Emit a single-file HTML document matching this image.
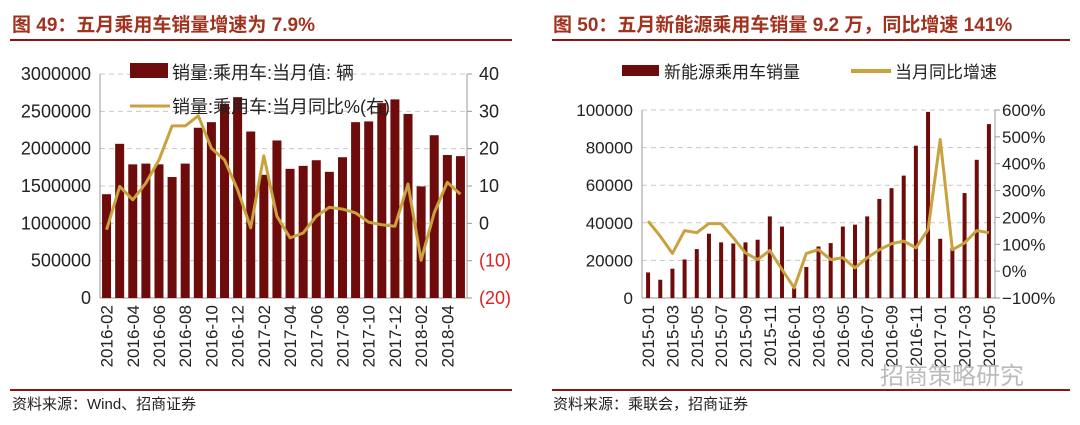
<!DOCTYPE html>
<html><head><meta charset="utf-8">
<style>
body{margin:0;background:#fff;width:1080px;height:425px;overflow:hidden;font-family:"Liberation Sans","Noto Sans CJK SC",sans-serif;}
svg{position:absolute;left:0;top:0}
</style></head>
<body>
<svg id="c" width="1080" height="425"></svg>
<script>
const leftCats = ["2016-02","2016-03","2016-04","2016-05","2016-06","2016-07","2016-08","2016-09","2016-10","2016-11","2016-12","2017-01","2017-02","2017-03","2017-04","2017-05","2017-06","2017-07","2017-08","2017-09","2017-10","2017-11","2017-12","2018-01","2018-02","2018-03","2018-04","2018-05"];
const leftSales = [1390000,2065000,1790000,1800000,1790000,1620000,1800000,2280000,2355000,2600000,2690000,2230000,1650000,2110000,1730000,1770000,1845000,1690000,1885000,2355000,2365000,2610000,2660000,2465000,1495000,2180000,1915000,1900000];
const leftYoy = [-1.7,9.9,6.3,10.8,17,26.1,26.1,28.8,20.1,17,9,-1.2,18.1,1.9,-3.9,-2.6,1.9,4.3,3.8,2.8,0.3,-0.4,-0.8,10.5,-9.9,2.8,11,7.8];
const leftTicksL = [0,500000,1000000,1500000,2000000,2500000,3000000];
const leftTicksR = [-20,-10,0,10,20,30,40];

const rightCats = ["2015-01","2015-02","2015-03","2015-04","2015-05","2015-06","2015-07","2015-08","2015-09","2015-10","2015-11","2015-12","2016-01","2016-02","2016-03","2016-04","2016-05","2016-06","2016-07","2016-08","2016-09","2016-10","2016-11","2016-12","2017-01","2017-02","2017-03","2017-04","2017-05"];
const rightSales = [13600,9700,15600,20500,26000,34200,29600,29000,29600,31000,43400,38000,5300,16500,27400,29200,38000,39000,43400,52700,58400,65100,81000,99000,31500,26500,55800,73500,92500];
const rightYoy = [186,130,66,151,143,177,177,124,68,43,77,6,-62,66,80,43,50,12,50,80,102,112,87,155,490,80,105,151,143];
const rightTicksL = [0,20000,40000,60000,80000,100000];
const rightTicksR = [-100,0,100,200,300,400,500,600];

const NS="http://www.w3.org/2000/svg";
const svg=document.getElementById('c');
function mk(tag,attrs,parent,text){const e=document.createElementNS(NS,tag);for(const k in attrs)e.setAttribute(k,attrs[k]);if(text!==undefined)e.textContent=text;(parent||svg).appendChild(e);return e;}

function drawChart(o){
  const g=mk('g',{});
  
  
  const yL=v=>o.y1-(v-o.lmin)/(o.lmax-o.lmin)*(o.y1-o.y0);
  const yR=v=>o.y1-(v-o.rmin)/(o.rmax-o.rmin)*(o.y1-o.y0);
  const n=o.cats.length;
  const step=(o.x1-o.x0)/n;
  const xC=i=>o.x0+step*(i+0.5);
  o.ticksL.forEach(t=>{ if(t===o.lmin) return;
    const l=mk('line',{x1:o.x0,x2:o.x1,y1:yL(t),y2:yL(t),stroke:'#c8c8c8','stroke-dasharray':'5,4','stroke-width':1},g);
    
    
  });
  const ax=mk('line',{x1:o.x0,x2:o.x0,y1:o.y0,y2:o.y1,stroke:'#999','stroke-width':1},g);
  
  const ax2=mk('line',{x1:o.x1,x2:o.x1,y1:o.y0,y2:o.y1,stroke:'#999','stroke-width':1},g);
  
  const ax3=mk('line',{x1:o.x0,x2:o.x1,y1:o.y1,y2:o.y1,stroke:'#999','stroke-width':1},g);
  
  o.ticksR.forEach(t=>{mk('line',{x1:o.x1,x2:o.x1+5,y1:yR(t),y2:yR(t),stroke:'#999'},g);});
  o.sales.forEach((v,i)=>{
    const b=mk('rect',{x:xC(i)-o.bw/2,y:yL(v),width:o.bw,height:o.y1-yL(v),fill:'#6e0b0b'},g);
    
    
  });
  const pts=o.yoy.map((v,i)=>xC(i).toFixed(1)+','+yR(v).toFixed(1)).join(' ');
  const pl=mk('polyline',{points:pts,fill:'none',stroke:'#c9a23e','stroke-width':3,'stroke-linejoin':'round'},g);
  
  
  o.ticksL.forEach(t=>{
    const tx=mk('text',{x:o.x0-9,y:yL(t)+6,'text-anchor':'end','font-size':o.fs,fill:'#222'},g,String(t));
    
  });
  o.ticksR.forEach(t=>{
    const neg=t<0;
    const lab=o.pct?(t+'%').replace('-','−'):(neg?'('+(-t)+')':String(t));
    const tx=mk('text',{x:o.x1+(o.pct?7:12),y:yR(t)+6,'text-anchor':'start','font-size':o.fs,fill:(neg&&!o.pct)?'#e02020':'#222'},g,lab);
    
  });
  o.cats.forEach((c,i)=>{
    if(i%2) return;
    const x=xC(i)+6, y=o.y1+7;
    const tx=mk('text',{x:x,y:y,'text-anchor':'end','font-size':17,fill:'#222',transform:`rotate(-90 ${x} ${y})`},g,c);
    
  });
}

drawChart({name:'left-chart',cats:leftCats,sales:leftSales,yoy:leftYoy,ticksL:leftTicksL,ticksR:leftTicksR,
  x0:100,x1:467,y0:74,y1:298,lmin:0,lmax:3000000,rmin:-20,rmax:40,bw:9,pct:false,fs:18});
drawChart({name:'right-chart',cats:rightCats,sales:rightSales,yoy:rightYoy,ticksL:rightTicksL,ticksR:rightTicksR,
  x0:642,x1:995,y0:110,y1:298,lmin:0,lmax:100000,rmin:-100,rmax:600,bw:4,pct:true,fs:17});

function txt(name,attrs,s){const t=mk('text',attrs,svg,s);return t;}
txt('left-title',{x:12,y:31,'font-size':19,'font-weight':'bold',fill:'#a0321e'},'图 49：五月乘用车销量增速为 7.9%');
txt('right-title',{x:553,y:31,'font-size':19,'font-weight':'bold',fill:'#a0321e'},'图 50：五月新能源乘用车销量 9.2 万，同比增速 141%');
[[10,512,40],[552,1070,40],[10,512,390],[552,1070,390]].forEach(r=>{
  const l=mk('line',{x1:r[0],x2:r[1],y1:r[2],y2:r[2],stroke:'#8e1414','stroke-width':2});
  
});
txt('left-source',{x:12,y:409,'font-size':15,fill:'#222'},'资料来源：Wind、招商证券');
txt('right-source',{x:553,y:409,'font-size':15,fill:'#222'},'资料来源：乘联会，招商证券');
txt('watermark',{x:880,y:384,'font-size':24,fill:'#bbb'},'招商策略研究');

let r=mk('rect',{x:130,y:63,width:38,height:15,fill:'#6e0b0b'});
txt('legend-bar-label',{x:172,y:79,'font-size':18,fill:'#222'},'销量:乘用车:当月值: 辆');
let l=mk('line',{x1:130,x2:170,y1:106,y2:106,stroke:'#c9a23e','stroke-width':3});
txt('legend-line-label',{x:172,y:113,'font-size':18,fill:'#222'},'销量:乘用车:当月同比%(右)');
r=mk('rect',{x:622,y:65,width:37,height:11,fill:'#6e0b0b'});
txt('legend-bar-label-right',{x:664,y:78,'font-size':17,fill:'#222'},'新能源乘用车销量');
l=mk('line',{x1:851,x2:891,y1:71,y2:71,stroke:'#c9a23e','stroke-width':4});
txt('legend-line-label-right',{x:895,y:78,'font-size':17,fill:'#222'},'当月同比增速');
</script>
</body></html>
